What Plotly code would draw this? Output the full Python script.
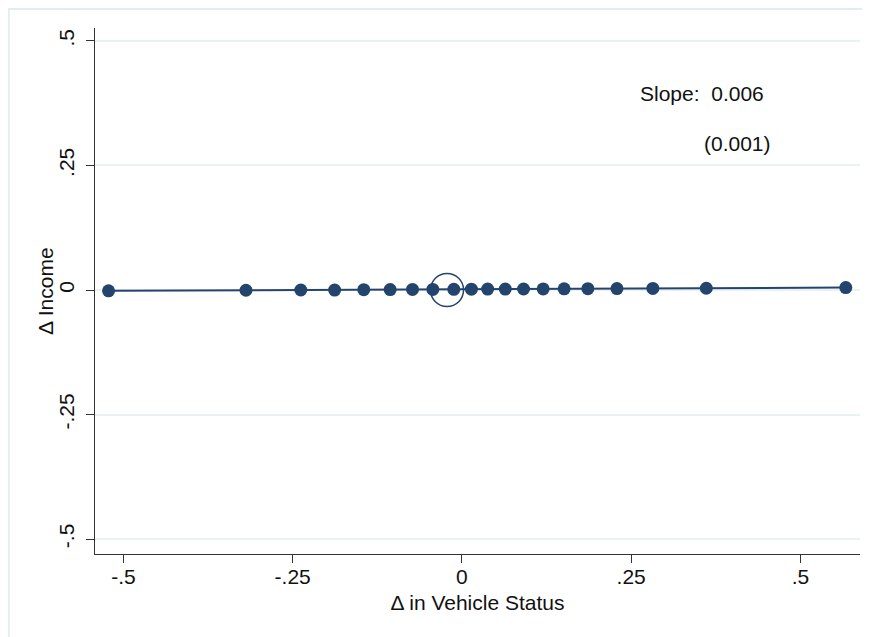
import plotly.graph_objects as go

# Binned data
bin_x = [-0.522, -0.319, -0.238, -0.188, -0.145, -0.106, -0.073, -0.043, -0.012,
         0.014, 0.038, 0.064, 0.091, 0.120, 0.151, 0.186, 0.229, 0.282, 0.361, 0.567]
bin_y = [-0.0017, -0.0005, 0.0000, -0.0001, 0.0006, 0.0008, 0.0011, 0.0012, 0.0014,
         0.0016, 0.0018, 0.0019, 0.0020, 0.0022, 0.0024, 0.0026, 0.0028, 0.0031, 0.0035, 0.0048]

# Fitted line end points
fit_x = [-0.522, 0.567]
fit_y = [-0.0017, 0.0048]

# Highlighted (circled) bin
circ_x = [-0.022]
circ_y = [0.0]

x_ticks = [-0.5, -0.25, 0, 0.25, 0.5]
x_tick_labels = ["-.5", "-.25", "0", ".25", ".5"]
y_ticks = [-0.5, -0.25, 0, 0.25, 0.5]
y_tick_labels = ["-.5", "-.25", "0", ".25", ".5"]

slope_text = "Slope:  0.006"
se_text = "(0.001)"
x_title = "Δ in Vehicle Status"
y_title = "Δ Income"

navy = "#23446d"
font = "Liberation Sans, Arial, Helvetica, sans-serif"
fs = 21

fig = go.Figure()
fig.add_trace(go.Scatter(x=fit_x, y=fit_y, mode="lines",
                         line=dict(color=navy, width=2), hoverinfo="skip"))
fig.add_trace(go.Scatter(x=bin_x, y=bin_y, mode="markers",
                         marker=dict(color=navy, size=13, line=dict(width=0))))
fig.add_trace(go.Scatter(x=circ_x, y=circ_y, mode="markers",
                         marker=dict(symbol="circle-open", color=navy, size=33,
                                     line=dict(width=1.5, color=navy))))

fig.add_annotation(x=0.3545, y=0.394, xref="x", yref="y", text=slope_text,
                   showarrow=False, font=dict(size=fs, color="#111", family=font))
fig.add_annotation(x=0.4077, y=0.295, xref="x", yref="y", text=se_text,
                   showarrow=False, font=dict(size=fs, color="#111", family=font))
fig.add_annotation(x=-0.0654, y=0.5, xref="paper", yref="paper", text=y_title,
                   textangle=-90, showarrow=False, xanchor="center", yanchor="middle",
                   font=dict(size=fs, color="#111", family=font))

# outer graph-region border
fig.add_shape(type="rect", xref="paper", yref="paper",
              x0=-0.1127, x1=1.03, y0=-0.17, y1=1.036,
              line=dict(color="#e3ecee", width=2), layer="below")

fig.update_layout(
    width=862, height=629,
    margin=dict(l=87, r=10, t=20, b=83),
    paper_bgcolor="white", plot_bgcolor="white",
    showlegend=False,
    font=dict(family=font, size=fs, color="#111"),
    xaxis=dict(range=[-0.542, 0.588], tickvals=x_ticks, ticktext=x_tick_labels,
               automargin=False,
               showgrid=False, zeroline=False, showline=True, linecolor="#333",
               linewidth=1.2, ticks="outside", ticklen=8, tickcolor="#333",
               ticklabelstandoff=-4,
               tickfont=dict(size=fs, family=font, color="#111"),
               title=dict(text=x_title, standoff=8,
                          font=dict(size=fs, family=font, color="#111"))),
    yaxis=dict(range=[-0.530, 0.526], tickvals=y_ticks, ticktext=y_tick_labels,
               automargin=False,
               showgrid=True, gridcolor="#eaf1f3", gridwidth=1.5,
               zeroline=False, showline=True, linecolor="#333",
               linewidth=1.2, ticks="outside", ticklen=8, tickcolor="#333",
               tickangle=-90, ticklabelstandoff=4,
               tickfont=dict(size=fs, family=font, color="#111")),
)

fig.write_html("out.html")
